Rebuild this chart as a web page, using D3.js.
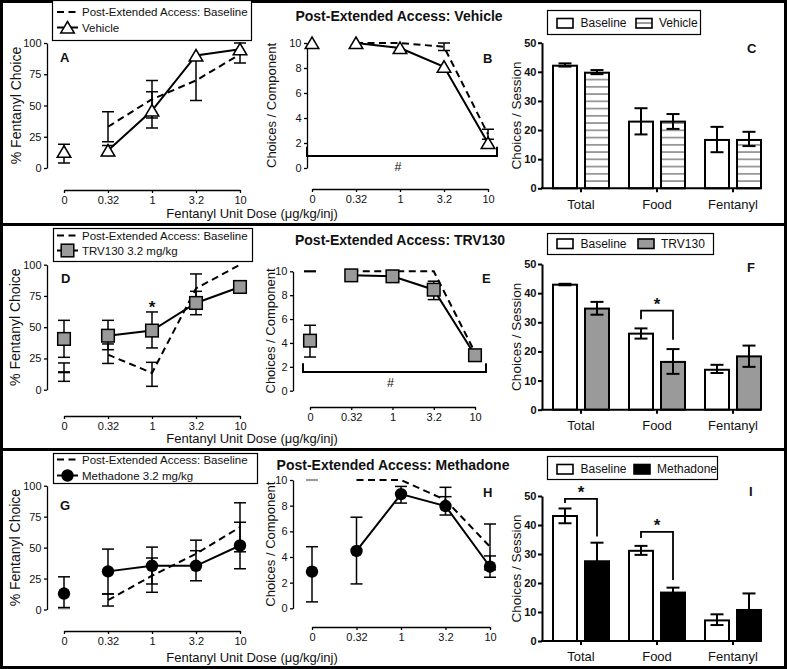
<!DOCTYPE html>
<html><head><meta charset="utf-8">
<script src="https://cdn.jsdelivr.net/npm/d3@7"></script>
<style>
body{margin:0;background:#fff}
svg{display:block}
text{font-family:"Liberation Sans",Arial,Helvetica,sans-serif;fill:#111}
</style>
</head><body>
<svg id="c" width="787" height="669"></svg>
<script>
// ---------- DATA ----------
const doses = ["0", "0.32", "1", "3.2", "10"];
const categories = ["Total", "Food", "Fentanyl"];
const titles = ["Post-Extended Access: Vehicle", "Post-Extended Access: TRV130", "Post-Extended Access: Methadone"];
const baselineLabel = "Post-Extended Access: Baseline";
const treatLabels = ["Vehicle", "TRV130 3.2 mg/kg", "Methadone 3.2 mg/kg"];
const barLegend = [["Baseline", "Vehicle"], ["Baseline", "TRV130"], ["Baseline", "Methadone"]];
const xAxisTitle = "Fentanyl Unit Dose (\u03bcg/kg/inj)";
const pctTicks = [0, 25, 50, 75, 100];
const compTicks = [0, 2, 4, 6, 8, 10];
const sessTicks = [0, 10, 20, 30, 40, 50];

// Panel A (% fentanyl choice, vehicle)
const aBaseMean = [null, 33, 55, 70, 91];
const aBaseLo = [null, 21, 40, null, null];
const aBaseHi = [null, 45, 70, null, null];
const aVehMean = [13, 14, 46, 90, 95];
const aVehLo = [4, 10, 32, 54, 84];
const aVehHi = [19, 18, 61, null, 100];

// Panel B (choices / component, vehicle)
const bBaseMean = [null, 10, 10, 9.7, 2.7];
const bBaseLo = [null, null, null, 9.4, 2.3];
const bBaseHi = [null, null, null, 10, 3.1];
const bVehMean = [10, 10, 9.6, 8.1, 2.0];
const bVehLo = [null, null, null, null, null];
const bVehHi = [null, null, null, null, null];

// Panel C (choices / session, vehicle)
const cBaseMean = [42.1, 22.9, 16.6];
const cBaseLo = [41.8, 18.5, 12.4];
const cBaseHi = [42.9, 27.5, 21.1];
const cVehMean = [39.7, 22.9, 16.6];
const cVehLo = [39.2, 20.4, 14.5];
const cVehHi = [40.6, 25.5, 19.4];

// Panel D (% fentanyl choice, TRV130)
const dBaseMean = [14, 28, 13.4, 81, 100];
const dBaseLo = [6.7, 21, 2.7, 72, null];
const dBaseHi = [21.4, 36.6, 21.9, 92.6, null];
const dTrvMean = [40.6, 43.2, 47.3, 69.4, 82.2];
const dTrvLo = [25.9, 32, 33.4, 60, null];
const dTrvHi = [55.5, 55.5, 62.2, 78.7, null];

// Panel E (choices / component, TRV130)
const eBaseMean = [10, 10, 10, 10, 3.2];
const eBaseLo = [null, null, null, null, null];
const eBaseHi = [null, null, null, null, null];
const eTrvMean = [4.19, 9.66, 9.58, 8.46, 2.97];
const eTrvLo = [2.82, null, null, 7.63, 2.6];
const eTrvHi = [5.48, null, null, 9.17, 3.3];

// Panel F (choices / session, TRV130)
const fBaseMean = [42.9, 26.1, 13.7];
const fBaseLo = [42.7, 24.4, 12.6];
const fBaseHi = [43.2, 27.9, 15.4];
const fTrvMean = [34.7, 16.4, 18.3];
const fTrvLo = [32.6, 12.3, 14.7];
const fTrvHi = [37, 20.8, 22];
const fSig = [{cat: "Food", top: 34, left: 31, right: 24}];

// Panel G (% fentanyl choice, methadone)
const gBaseMean = [1, 7.5, 27.3, 45, 66.5];
const gBaseLo = [null, 2.8, 13.9, null, 46.6];
const gBaseHi = [null, 12.5, 41.6, 56, 86.2];
const gMetMean = [12.9, 30.8, 35.3, 35.3, 51.7];
const gMetLo = [1.6, 12.6, 20.6, 23.2, 32.9];
const gMetHi = [26.4, 48.8, 50.4, 47.5, 70.5];

// Panel H (choices / component, methadone)
const hBaseMean = [10, 10, 10, 8.44, 4.8];
const hBaseLo = [null, null, null, null, 3.0];
const hBaseHi = [null, null, null, 9.43, 6.57];
const hMetMean = [2.86, 4.47, 8.9, 7.97, 3.24];
const hMetLo = [0.5, 1.9, 8.2, 7.27, 2.42];
const hMetHi = [4.8, 7.1, 9.5, 8.7, 4.08];

// Panel I (choices / session, methadone)
const iBaseMean = [43.1, 31.1, 7.1];
const iBaseLo = [40.6, 29.7, 5.5];
const iBaseHi = [45.7, 32.8, 9.2];
const iMetMean = [27.5, 16.7, 10.7];
const iMetLo = [21.1, 15.0, 5.0];
const iMetHi = [33.9, 18.4, 16.4];
const iSig = [{cat: "Total", top: 49, left: 47.6, right: 36}, {cat: "Food", top: 37.6, left: 35.5, right: 21}];

// ---------- DRAWING ----------
const svg = d3.select("#c");
const GRAY = "#9a9a9a";
const defs = svg.append("defs");

// frame
svg.append("rect").attr("x", 1.5).attr("y", 1.5).attr("width", 784).attr("height", 666)
  .attr("fill", "none").attr("stroke", "#000").attr("stroke-width", 3);
[224.5, 449.5].forEach(yy => svg.append("line").attr("x1", 0).attr("x2", 787)
  .attr("y1", yy).attr("y2", yy).attr("stroke", "#000").attr("stroke-width", 3));

function marker(g, type, cx, cy) {
  if (type === "tri") {
    g.append("path").attr("d", `M${cx},${cy - 6}L${cx + 6.8},${cy + 5.5}L${cx - 6.8},${cy + 5.5}Z`)
      .attr("fill", "#fff").attr("stroke", "#000").attr("stroke-width", 1.5).attr("stroke-linejoin", "miter");
  } else if (type === "sq") {
    g.append("rect").attr("x", cx - 6.3).attr("y", cy - 6.3).attr("width", 12.6).attr("height", 12.6)
      .attr("fill", GRAY).attr("stroke", "#000").attr("stroke-width", 1.5);
  } else {
    g.append("circle").attr("cx", cx).attr("cy", cy).attr("r", 6.2).attr("fill", "#000");
  }
}

function vline(g, x, y1, y2, sw) {
  g.append("line").attr("x1", x).attr("x2", x).attr("y1", y1).attr("y2", y2)
    .attr("stroke", "#000").attr("stroke-width", sw);
}
function hline(g, x1, x2, y, sw, color) {
  return g.append("line").attr("x1", x1).attr("x2", x2).attr("y1", y).attr("y2", y)
    .attr("stroke", color || "#000").attr("stroke-width", sw);
}

function errBars(g, xpos, y, mean, lo, hi, capW, sw) {
  mean.forEach((m, i) => {
    if (m == null) return;
    [lo[i], hi[i]].forEach(v => {
      if (v == null) return;
      vline(g, xpos(i), y(m), y(v), sw);
      hline(g, xpos(i) - capW / 2, xpos(i) + capW / 2, y(v), sw);
    });
  });
}

function styleAxis(ax, fs, bold, sw) {
  ax.selectAll("path.domain").attr("stroke", "#000").attr("stroke-width", sw);
  ax.selectAll(".tick line").attr("stroke", "#000").attr("stroke-width", sw);
  ax.selectAll(".tick text").attr("font-size", fs).attr("font-weight", bold ? "bold" : "normal")
    .attr("fill", "#111").style("font-family", '"Liberation Sans",Arial,sans-serif');
}

function rotLabel(text, x, cy, fs) {
  svg.append("text").attr("transform", `translate(${x},${cy}) rotate(-90)`)
    .attr("text-anchor", "middle").attr("font-size", fs).text(text);
}

function letter(t, x, y) {
  svg.append("text").attr("x", x).attr("y", y).attr("font-size", 13).attr("font-weight", "bold").text(t);
}

function linePanel(p) {
  const x = d3.scalePoint().domain(doses).range(p.xr);
  const y = d3.scaleLinear().domain([0, p.yMax]).range(p.yr);
  const xi = i => x(doses[i]);
  const g = svg.append("g");

  const ya = g.append("g").attr("transform", `translate(${p.yAxisX},0)`)
    .call(d3.axisLeft(y).tickValues(p.ticks).tickSize(3).tickSizeOuter(0).tickPadding(2.5).tickFormat(d3.format("d")));
  styleAxis(ya, 11, false, 1.3);
  const xa = g.append("g").attr("transform", `translate(0,${p.xAxisY})`)
    .call(d3.axisBottom(x).tickSize(3).tickSizeOuter(0).tickPadding(3.5));
  styleAxis(xa, 11, false, 1.3);

  // baseline series
  errBars(g, xi, y, p.base.mean, p.base.lo, p.base.hi, 12, 1.5);
  const idx = d3.range(1, doses.length);
  const line = d3.line().x(i => xi(i)).y(i => y(p.base.mean[i]));
  g.append("path").attr("d", line(idx.filter(i => p.base.mean[i] != null)))
    .attr("fill", "none").attr("stroke", "#000").attr("stroke-width", 2).attr("stroke-dasharray", "7,4.5");
  if (p.base.mean[0] != null && p.dash0) {
    hline(g, xi(0) - 6, xi(0) + 6, y(p.base.mean[0]), 2.2, p.dash0);
  }

  // treatment series
  const tline = d3.line().x(i => xi(i)).y(i => y(p.treat.mean[i]));
  g.append("path").attr("d", tline(idx)).attr("fill", "none").attr("stroke", "#000").attr("stroke-width", 2);
  errBars(g, xi, y, p.treat.mean, p.treat.lo, p.treat.hi, 12, 1.5);
  p.treat.mean.forEach((m, i) => marker(g, p.marker, xi(i), y(m)));

  if (p.bracket) {
    const b = p.bracket;
    const by = y(b.level), bt = y(b.end);
    const x1 = p.xr[0] + b.dx0, x2 = p.xr[1] + b.dx1;
    g.append("path").attr("d", `M${x1},${bt}V${by}H${x2}V${bt}`)
      .attr("fill", "none").attr("stroke", "#000").attr("stroke-width", 2);
    g.append("text").attr("x", (x1 + x2) / 2 - 4).attr("y", by + 15).attr("text-anchor", "middle")
      .attr("font-size", 12.5).text("#");
  }
  if (p.star) {
    const cx = x(p.star.dose);
    svg.append("text").attr("x", cx).attr("y", y(p.star.value) + 9).attr("text-anchor", "middle")
      .attr("font-size", 17).attr("font-weight", "bold").text("*");
  }
  rotLabel(p.label, p.labelX, (p.yr[0] + p.yr[1]) / 2, p.labelFs);
  return {x, y};
}

function lineLegend(box, rows, type, tlabel) {
  const g = svg.append("g");
  g.append("rect").attr("x", box[0]).attr("y", box[1]).attr("width", box[2]).attr("height", box[3])
    .attr("fill", "#fff").attr("stroke", "#000").attr("stroke-width", 1.2);
  hline(g, 57, 78, rows[0], 2).attr("stroke-dasharray", "7,4.5");
  g.append("text").attr("x", 82).attr("y", rows[0] + 4.2).attr("font-size", 11.5).text(baselineLabel);
  hline(g, 57, 78, rows[1], 2);
  marker(g, type, 67.5, rows[1]);
  g.append("text").attr("x", 82).attr("y", rows[1] + 4.2).attr("font-size", 11.5).text(tlabel);
}

function barPanel(p) {
  const x = d3.scaleBand().domain(categories).range([543, 771]);
  const x1 = d3.scaleBand().domain(["base", "treat"]).range([-28, 28]).paddingInner(0.25);
  const y = d3.scaleLinear().domain([0, 50]).range(p.yr);
  const g = svg.append("g");
  const cx = c => x(c) + x.bandwidth() / 2;

  const series = [["base", p.base, "#fff"], ["treat", p.treat, p.fill]];
  series.forEach(([k, s, fill]) => {
    categories.forEach((c, i) => {
      g.append("rect").attr("x", cx(c) + x1(k)).attr("width", x1.bandwidth())
        .attr("y", y(s.mean[i])).attr("height", y(0) - y(s.mean[i]))
        .attr("fill", fill).attr("stroke", "#000").attr("stroke-width", 2);
    });
  });
  series.forEach(([k, s]) => {
    errBars(g, i => cx(categories[i]) + x1(k) + x1.bandwidth() / 2, y, s.mean, s.lo, s.hi, 13, 2);
  });

  const ya = g.append("g").attr("transform", `translate(542,0)`)
    .call(d3.axisLeft(y).tickValues(sessTicks).tickSize(4).tickSizeOuter(0).tickPadding(1.5));
  styleAxis(ya, 11, true, 2);
  const xa = g.append("g").attr("transform", `translate(0,${y(0)})`)
    .call(d3.axisBottom(x).tickSize(4).tickSizeOuter(0).tickPadding(7));
  styleAxis(xa, 13, false, 2);
  xa.select("path.domain").remove();
  hline(g, 541, 761, y(0), 2);

  (p.sig || []).forEach(s => {
    const xl = cx(s.cat) + x1("base") + x1.bandwidth() / 2;
    const xr = cx(s.cat) + x1("treat") + x1.bandwidth() / 2;
    g.append("path").attr("d", `M${xl},${y(s.left)}V${y(s.top)}H${xr}V${y(s.right)}`)
      .attr("fill", "none").attr("stroke", "#000").attr("stroke-width", 1.8);
    g.append("text").attr("x", (xl + xr) / 2).attr("y", y(s.top) - 1).attr("text-anchor", "middle")
      .attr("font-size", 17).attr("font-weight", "bold").text("*");
  });
  rotLabel("Choices / Session", 521, (p.yr[0] + p.yr[1]) / 2, 13.5);

  // legend
  const L = p.legend;
  const lg = svg.append("g");
  lg.append("rect").attr("x", L.box[0]).attr("y", L.box[1]).attr("width", L.box[2]).attr("height", L.box[3])
    .attr("fill", "#fff").attr("stroke", "#000").attr("stroke-width", 1.2);
  lg.append("rect").attr("x", 557).attr("y", L.sy).attr("width", 16).attr("height", 9.5)
    .attr("fill", "#fff").attr("stroke", "#000").attr("stroke-width", 1.6);
  lg.append("text").attr("x", 580.5).attr("y", L.ty).attr("font-size", 12).text(L.labels[0]);
  lg.append("rect").attr("x", L.sx2).attr("y", L.sy).attr("width", 16).attr("height", 9.5)
    .attr("fill", L.sfill || p.fill).attr("stroke", "#000").attr("stroke-width", 1.6);
  lg.append("text").attr("x", L.sx2 + 23).attr("y", L.ty).attr("font-size", 12).text(L.labels[1]);
  return y;
}

// hatch patterns
function hatch(id, y0) {
  const step = 7.25;
  const pat = defs.append("pattern").attr("id", id).attr("patternUnits", "userSpaceOnUse")
    .attr("width", 10).attr("height", step).attr("y", ((y0 % step) + step) % step);
  pat.append("rect").attr("width", 10).attr("height", step).attr("fill", "#fff");
  pat.append("line").attr("x1", 0).attr("x2", 10).attr("y1", step / 2).attr("y2", step / 2)
    .attr("stroke", "#555").attr("stroke-width", 1.1);
}
hatch("hatchC", 188.3 - 3.6);
hatch("hatchL", 23 - 3.6);

// ---- Row 1 ----
linePanel({xr: [64, 240], yAxisX: 47, yr: [168, 43], yMax: 100, ticks: pctTicks, xAxisY: 190,
  base: {mean: aBaseMean, lo: aBaseLo, hi: aBaseHi}, treat: {mean: aVehMean, lo: aVehLo, hi: aVehHi},
  marker: "tri", label: "% Fentanyl Choice", labelX: 21, labelFs: 14});
linePanel({xr: [312, 488], yAxisX: 307, yr: [168, 43], yMax: 10, ticks: compTicks, xAxisY: 189,
  base: {mean: bBaseMean, lo: bBaseLo, hi: bBaseHi}, treat: {mean: bVehMean, lo: bVehLo, hi: bVehHi},
  marker: "tri", label: "Choices / Component", labelX: 276, labelFs: 13,
  bracket: {level: 0.96, end: 1.7, dx0: -5, dx1: 9}});
barPanel({yr: [188.3, 42.7], fill: "url(#hatchC)",
  base: {mean: cBaseMean, lo: cBaseLo, hi: cBaseHi}, treat: {mean: cVehMean, lo: cVehLo, hi: cVehHi},
  legend: {box: [547.5, 10.5, 153, 24], sy: 18.5, ty: 27, sx2: 636, labels: barLegend[0], sfill: "url(#hatchL)"}});
lineLegend([52.5, 0.5, 199, 40], [12, 27.5], "tri", treatLabels[0]);

// ---- Row 2 ----
linePanel({xr: [64, 240], yAxisX: 47, yr: [389.7, 264.7], yMax: 100, ticks: pctTicks, xAxisY: 416,
  base: {mean: dBaseMean, lo: dBaseLo, hi: dBaseHi}, treat: {mean: dTrvMean, lo: dTrvLo, hi: dTrvHi},
  marker: "sq", dash0: "#000", label: "% Fentanyl Choice", labelX: 20, labelFs: 14,
  star: {dose: "1", value: 68.6}});
linePanel({xr: [310, 475], yAxisX: 293, yr: [390.7, 271.3], yMax: 10, ticks: compTicks, xAxisY: 407,
  base: {mean: eBaseMean, lo: eBaseLo, hi: eBaseHi}, treat: {mean: eTrvMean, lo: eTrvLo, hi: eTrvHi},
  marker: "sq", dash0: "#000", label: "Choices / Component", labelX: 275, labelFs: 13,
  bracket: {level: 1.57, end: 2.3, dx0: -7, dx1: 11}});
barPanel({yr: [409.7, 264], fill: GRAY,
  base: {mean: fBaseMean, lo: fBaseLo, hi: fBaseHi}, treat: {mean: fTrvMean, lo: fTrvLo, hi: fTrvHi},
  sig: fSig,
  legend: {box: [547.5, 233.5, 166, 21], sy: 239, ty: 247.5, sx2: 638, labels: barLegend[1]}});
lineLegend([53.5, 228.5, 199, 33], [235.5, 250.5], "sq", treatLabels[1]);

// ---- Row 3 ----
linePanel({xr: [64, 240], yAxisX: 47, yr: [609.5, 485.7], yMax: 100, ticks: pctTicks, xAxisY: 631,
  base: {mean: gBaseMean, lo: gBaseLo, hi: gBaseHi}, treat: {mean: gMetMean, lo: gMetLo, hi: gMetHi},
  marker: "circ", dash0: GRAY, label: "% Fentanyl Choice", labelX: 20, labelFs: 14});
linePanel({xr: [312, 490], yAxisX: 293, yr: [608.3, 480], yMax: 10, ticks: compTicks, xAxisY: 627,
  base: {mean: hBaseMean, lo: hBaseLo, hi: hBaseHi}, treat: {mean: hMetMean, lo: hMetLo, hi: hMetHi},
  marker: "circ", dash0: GRAY, label: "Choices / Component", labelX: 275, labelFs: 13});
barPanel({yr: [641, 496], fill: "#000",
  base: {mean: iBaseMean, lo: iBaseLo, hi: iBaseHi}, treat: {mean: iMetMean, lo: iMetLo, hi: iMetHi},
  sig: iSig,
  legend: {box: [547.5, 456.5, 170, 23], sy: 464.5, ty: 472.5, sx2: 634, labels: barLegend[2]}});
lineLegend([53.5, 453.5, 204, 30], [459.5, 475.5], "circ", treatLabels[2]);

// titles, x titles, letters
[[399, 20.5], [400, 245], [393, 470]].forEach((p, i) =>
  svg.append("text").attr("x", p[0]).attr("y", p[1]).attr("text-anchor", "middle")
    .attr("font-size", 14).attr("font-weight", "bold").text(titles[i]));
[218, 443, 662].forEach(yy =>
  svg.append("text").attr("x", 252).attr("y", yy).attr("text-anchor", "middle")
    .attr("font-size", 13).text(xAxisTitle));
letter("A", 60, 62); letter("B", 483, 63); letter("C", 747, 53);
letter("D", 61, 283); letter("E", 482, 283); letter("F", 747, 272);
letter("G", 60, 510); letter("H", 483, 497); letter("I", 749, 496);
</script>
</body></html>
